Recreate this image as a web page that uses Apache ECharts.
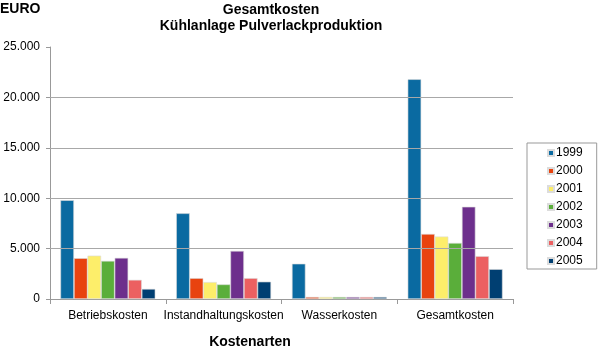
<!DOCTYPE html>
<html>
<head>
<meta charset="utf-8">
<script src="https://cdn.jsdelivr.net/npm/echarts@6/dist/echarts.min.js"></script>
<style>
  html, body { margin: 0; padding: 0; background: #fff; }
  #main { width: 600px; height: 352px; }
</style>
</head>
<body>
<div id="main"></div>
<script>
// Kostenarten und Jahre
var categories = ['Betriebskosten', 'Instandhaltungskosten', 'Wasserkosten', 'Gesamtkosten'];
var years = ['1999', '2000', '2001', '2002', '2003', '2004', '2005'];
// Werte je Jahr (EURO), in Reihenfolge der Kategorien
var v1999 = [9800, 8500, 3500, 21800];
var v2000 = [4050, 2070, 200, 6450];
var v2001 = [4300, 1680, 200, 6200];
var v2002 = [3780, 1450, 200, 5560];
var v2003 = [4080, 4770, 200, 9150];
var v2004 = [1900, 2070, 200, 4250];
var v2005 = [1000, 1720, 200, 2960];
var gridValues = [5000, 10000, 15000, 20000];

var yearValues = [v1999, v2000, v2001, v2002, v2003, v2004, v2005];
var colors = ['#0a6aa1', '#e8430f', '#fdee6a', '#5aae3a', '#6d2f8c', '#ec6061', '#003f72'];

function fmt(v) {
    // Tausenderpunkt wie im Original
    return String(v).replace(/\B(?=(\d{3})+(?!\d))/g, '.');
}

var myChart = echarts.init(document.getElementById('main'));

var series = years.map(function (y, i) {
    return {
        name: y,
        type: 'bar',
        data: yearValues[i],
        barGap: '0%',
        barCategoryGap: '18%',
        itemStyle: { color: colors[i], borderColor: '#dcdcdc', borderWidth: 0.6 }
    };
});
// Gitterlinien (ohne Linie bei 25.000)
series[0].markLine = {
    silent: true,
    symbol: 'none',
    label: { show: false },
    lineStyle: { color: '#a8a8a8', type: 'solid', width: 1 },
    data: gridValues.map(function (g) { return { yAxis: g }; })
};

var option = {
    textStyle: { fontFamily: 'Liberation Sans' },
    color: colors,
    title: [
        {
            text: 'Gesamtkosten\nKühlanlage Pulverlackproduktion',
            left: 271, top: 2, padding: 0, textAlign: 'center',
            textStyle: { fontSize: 14, fontWeight: 'bold', color: '#000', lineHeight: 16, fontFamily: 'Liberation Sans' }
        },
        {
            text: 'EURO', left: 0, top: 2, padding: 0,
            textStyle: { fontSize: 14, fontWeight: 'bold', color: '#000', fontFamily: 'Liberation Sans' }
        },
        {
            text: 'Kostenarten', left: 250, top: 335, padding: 0, textAlign: 'center',
            textStyle: { fontSize: 14, fontWeight: 'bold', color: '#000', fontFamily: 'Liberation Sans' }
        }
    ],
    legend: {
        orient: 'vertical',
        left: 527, top: 143,
        data: years,
        icon: 'rect',
        itemWidth: 6, itemHeight: 6,
        itemGap: 6,
        padding: [4, 14, 2, 20],
        borderColor: '#999', borderWidth: 1,
        textStyle: { fontSize: 12, color: '#000', padding: [0, 0, 0, -3], fontFamily: 'Liberation Sans' }
    },
    grid: { left: 50, right: 87, top: 47, bottom: 53 },
    xAxis: {
        type: 'category',
        data: categories,
        axisLine: { lineStyle: { color: '#999' } },
        axisTick: { show: true, length: 5, lineStyle: { color: '#999' } },
        axisLabel: { color: '#000', fontSize: 12, margin: 11, interval: 0 }
    },
    yAxis: {
        type: 'value',
        min: 0, max: 25000, interval: 5000,
        axisLine: { show: true, lineStyle: { color: '#999' } },
        axisTick: { show: true, length: 4, lineStyle: { color: '#999' } },
        splitLine: { show: false },
        axisLabel: { color: '#000', fontSize: 12, margin: 10, formatter: fmt }
    },
    series: series
};

myChart.setOption(option);
</script>
</body>
</html>
